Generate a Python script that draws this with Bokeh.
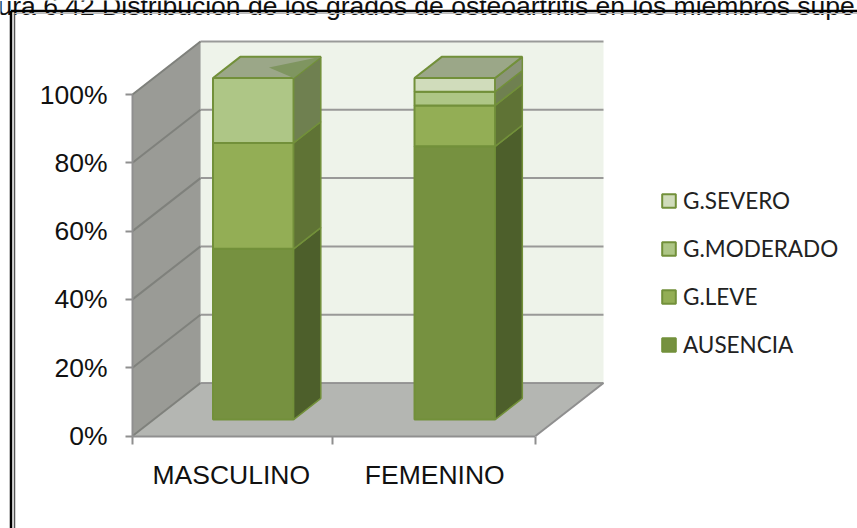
from bokeh.plotting import figure
from bokeh.models import FixedTicker, Legend, LegendItem, ColumnDataSource
from bokeh.embed import file_html
from bokeh.resources import INLINE
from bokeh.core.properties import value

categories = ["MASCULINO", "FEMENINO"]
series_names = ["AUSENCIA", "G.LEVE", "G.MODERADO", "G.SEVERO"]
ausencia = [50, 80]
g_leve = [31, 12]
g_moderado = [19, 4]
g_severo = [0, 4]
y_ticks = [0, 20, 40, 60, 80, 100]
title_text = "ura 6.42 Distribución de los grados de osteoartritis en los miembros supe"

front_colors = ["#769140", "#93AE55", "#AEC686", "#D0DCBB"]
side_colors = ["#4D5F2B", "#5F7335", "#6F8050", "#8A9478"]
edge = "#72903A"

W, H = 857, 528
X0, Y0 = 132.0, 435.5      # pixel of category 0 / value 0
XS, YS = 201.5, 3.415      # pixels per category / per percent
DX, DY = 68.0 / XS, 53.0 / YS   # depth offset in data units

p = figure(width=W, height=H, output_backend="svg", toolbar_location=None,
           x_range=(-X0 / XS, (W - X0) / XS),
           y_range=((Y0 - H) / YS, Y0 / YS),
           min_border=0, min_border_left=0, min_border_right=0,
           min_border_top=0, min_border_bottom=0,
           background_fill_color="white", border_fill_color="white")
p.outline_line_color = None
p.grid.visible = False


def P(x, y, d=0.0):
    return x + d * DX, y + d * DY


def poly(pts, **kw):
    xs = [a[0] for a in pts]
    ys = [a[1] for a in pts]
    return p.patch(xs, ys, **kw)


# Walls and floor
poly([P(0, 0), P(0, 100), P(0, 100, 1), P(0, 0, 1)], fill_color="#9A9B96", line_color="#8F8F8F", line_width=1)
poly([P(0, 0, 1), P(0, 100, 1), P(2, 100, 1), P(2, 0, 1)], fill_color="#EEF3EA", line_color=None)
poly([P(0, 0), P(2, 0), P(2, 0, 1), P(0, 0, 1)], fill_color="#B4B6B2", line_color=None)

# Grid lines: along the left wall, then along the back wall
for t in y_ticks:
    a, b, c = P(0, t), P(0, t, 1), P(2, t, 1)
    p.line([a[0], b[0]], [a[1], b[1]], line_color="#7F817C", line_width=2)
    p.line([b[0], c[0]], [b[1], c[1]], line_color="#8F8F8F", line_width=2, line_alpha=0.9)
a, b = P(2, 0), P(2, 0, 1)
p.line([a[0], b[0]], [a[1], b[1]], line_color="#8F8F8F", line_width=2)

# Stacked 3D bars
BW = 0.40
D0, D1 = 0.31, 0.71
stacks = [ausencia, g_leve, g_moderado, g_severo]
centers = [0.495, 1.495]
label_pos = [0.49, 1.5]
legend_r = [None] * 4
for ci, cx in enumerate(centers):
    x0, x1 = cx - BW / 2, cx + BW / 2
    base = 0
    for si, vals in enumerate(stacks):
        v = vals[ci]
        top = base + v
        if v > 0:
            r = poly([P(x0, base, D0), P(x1, base, D0), P(x1, top, D0), P(x0, top, D0)],
                     fill_color=front_colors[si], line_color=edge, line_width=2)
            if legend_r[si] is None:
                legend_r[si] = r
            poly([P(x1, base, D0), P(x1, base, D1), P(x1, top, D1), P(x1, top, D0)],
                 fill_color=side_colors[si], line_color=edge, line_width=1.5)
        base = top
    # top cap
    poly([P(x0, base, D0), P(x1, base, D0), P(x1, base, D1), P(x0, base, D1)],
         fill_color="#9BA788", line_color=edge, line_width=2)
    if stacks[3][ci] == 0:
        # sliver left by the empty segment on the top cap
        poly([P(x1, base, D0), P(x1, base, D1), P(x1 - 0.19, base, (D0 + D1) / 2)],
             fill_color="#7F9560", line_color=None)

# Axes
p.yaxis.fixed_location = 0
p.yaxis.bounds = (0, 100)
p.yaxis.ticker = FixedTicker(ticks=y_ticks)
p.yaxis.major_label_overrides = {t: f"{t}%" for t in y_ticks}
p.yaxis.major_label_text_font = "Liberation Sans"
p.yaxis.major_label_text_font_size = "26.5px"
p.yaxis.major_label_text_color = "#111111"
p.yaxis.major_label_standoff = 18
p.yaxis.major_tick_in = 0
p.yaxis.major_tick_out = 7
p.yaxis.minor_tick_in = 0
p.yaxis.minor_tick_out = 0
p.yaxis.axis_line_color = "#8F8F8F"
p.yaxis.axis_line_width = 2
p.yaxis.major_tick_line_color = "#8F8F8F"
p.yaxis.major_tick_line_width = 2

p.xaxis.fixed_location = 0
p.xaxis.bounds = (0, 2)
p.xaxis.ticker = FixedTicker(ticks=label_pos, minor_ticks=[0, 0.993, 2])
p.xaxis.major_label_overrides = {c: n for c, n in zip(label_pos, categories)}
p.xaxis.major_label_text_font = "Liberation Sans"
p.xaxis.major_label_text_font_size = "26.5px"
p.xaxis.major_label_text_color = "#111111"
p.xaxis.major_label_standoff = 16
p.xaxis.major_tick_in = 0
p.xaxis.major_tick_out = 0
p.xaxis.minor_tick_in = 0
p.xaxis.minor_tick_out = 8
p.xaxis.axis_line_color = "#8F8F8F"
p.xaxis.axis_line_width = 2
p.xaxis.minor_tick_line_color = "#8F8F8F"
p.xaxis.minor_tick_line_width = 2

# Legend
items = [LegendItem(label=series_names[i], renderers=[legend_r[i]]) for i in (3, 2, 1, 0) if legend_r[i]]
legend = Legend(items=items, location=(660, H - 358), orientation="vertical",
                background_fill_alpha=0, border_line_color=None,
                glyph_width=17, glyph_height=17, spacing=21, label_standoff=6,
                label_text_font="Lato", label_text_font_size="22.5px", label_text_color="#222222",
                margin=0, padding=10)
p.add_layout(legend, "center")

# Title (cut by the page edge as in the source) and the frame lines
title_src = ColumnDataSource(dict(x=[(-3 - X0) / XS], y=[(Y0 - 5) / YS], t=[title_text]))
p.text("x", "y", text="t", source=title_src, text_font=value("Liberation Sans"), text_font_size="26.5px",
       text_color="#111111", text_baseline="alphabetic", text_align="left")
px = lambda v: (v - X0) / XS
py = lambda v: (Y0 - v) / YS
p.line([px(10.5), px(10.5)], [py(H), py(10.5)], line_color="black", line_width=2.5)
p.line([px(10.5), px(W)], [py(10.5), py(10.5)], line_color="black", line_width=2.5)
p.line([px(14), px(14)], [py(H), py(13)], line_color="#555555", line_width=1.5)
p.line([px(14), px(W)], [py(13), py(13)], line_color="#BBBBBB", line_width=1)

open("out.html", "w").write(file_html(p, INLINE))
